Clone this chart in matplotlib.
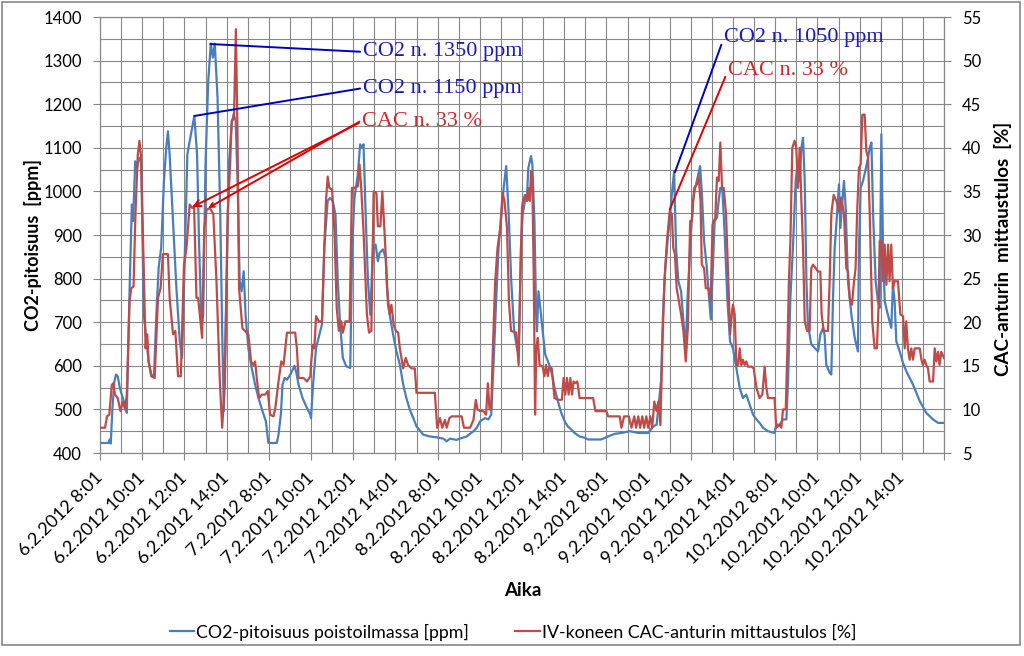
import matplotlib
matplotlib.use("Agg")
import matplotlib.pyplot as plt
from matplotlib.patches import Rectangle

plt.rcParams['font.family'] = ['Lato', 'DejaVu Sans']

# Tunnit kategoria-akselilla (0 = 6.2.2012 8:01, 8 h per päivä)
co2_t = [0.00, 0.41, 0.46, 0.51, 0.59, 0.68, 0.76, 0.84, 0.94, 1.08, 1.19, 1.27, 1.40, 1.51, 1.57, 1.67,
         1.76, 1.86, 1.95, 2.08, 2.21, 2.30, 2.43, 2.56, 2.67, 2.78, 2.90, 3.03, 3.14, 3.22, 3.30, 3.46,
         3.62, 3.78, 3.89, 4.02, 4.14, 4.25, 4.37, 4.47, 4.60, 4.70, 4.81, 4.89, 5.00, 5.13, 5.25, 5.35,
         5.44, 5.57, 5.70, 5.79, 5.87, 6.00, 6.11, 6.24, 6.33, 6.43, 6.52, 6.62, 6.71, 6.81, 6.90, 7.03,
         7.19, 7.35, 7.51, 7.70, 7.86, 7.98, 8.38, 8.46, 8.57, 8.65, 8.75, 8.86, 9.02, 9.22, 9.30, 9.41,
         9.60, 9.81, 9.97, 10.00, 10.11, 10.24, 10.40, 10.52, 10.63, 10.79, 10.90, 11.03, 11.16, 11.27,
         11.38, 11.51, 11.67, 11.86, 11.95, 12.06, 12.22, 12.33, 12.43, 12.49, 12.59, 12.70, 12.81, 12.94,
         13.06, 13.17, 13.25, 13.41, 13.54, 13.60, 13.73, 13.89, 14.05, 14.21, 14.37, 14.52, 14.68, 14.84,
         15.00, 15.32, 15.63, 15.95, 16.27, 16.43, 16.59, 16.90, 17.05, 17.38, 17.70, 17.86, 18.02, 18.25,
         18.41, 18.54, 18.65, 18.78, 18.89, 19.00, 19.13, 19.25, 19.37, 19.49, 19.63, 19.76, 19.84, 19.95,
         20.03, 20.14, 20.24, 20.30, 20.43, 20.49, 20.59, 20.67, 20.71, 20.78, 20.87, 20.98, 21.10, 21.22,
         21.35, 21.46, 21.54, 21.70, 21.86, 22.02, 22.17, 22.33, 22.49, 22.73, 22.97, 23.13, 23.44, 23.75,
         24.08, 24.40, 24.71, 25.11, 25.51, 25.98, 26.22, 26.38, 26.59, 26.68, 26.79, 26.90, 27.02, 27.13,
         27.21, 27.30, 27.41, 27.54, 27.65, 27.76, 27.84, 27.97, 28.10, 28.21, 28.32, 28.44, 28.52, 28.63,
         28.76, 28.84, 28.95, 29.05, 29.13, 29.24, 29.32, 29.40, 29.49, 29.60, 29.73, 29.86, 30.00, 30.16,
         30.32, 30.47, 30.63, 30.79, 30.95, 31.11, 31.26, 31.42, 31.66, 31.97, 32.05, 32.21, 32.37, 32.53,
         32.61, 32.72, 32.84, 32.97, 33.08, 33.16, 33.24, 33.32, 33.40, 33.48, 33.55, 33.71, 33.87, 34.03,
         34.14, 34.27, 34.34, 34.42, 34.58, 34.66, 34.74, 34.82, 34.93, 35.02, 35.09, 35.18, 35.26, 35.34,
         35.45, 35.61, 35.77, 35.92, 35.97, 36.05, 36.16, 36.27, 36.40, 36.48, 36.56, 36.64, 36.76, 36.87,
         36.95, 37.03, 37.11, 37.19, 37.30, 37.42, 37.50, 37.58, 37.66, 37.74, 37.90, 38.06, 38.21, 38.53,
         38.85, 39.16, 39.48, 39.72, 40.00]
co2_ppm = [423, 423, 431, 422, 503, 564, 580, 576, 549, 526, 511, 492, 771, 970, 932, 1069,
           1054, 1077, 1069, 717, 656, 611, 580, 576, 717, 825, 871, 1024, 1100, 1138, 1085, 932,
           779, 656, 618, 855, 1085, 1115, 1146, 1173, 1085, 871, 695, 717, 1062, 1253, 1339, 1307,
           1339, 1215, 947, 679, 496, 794, 1062, 1154, 1177, 1161, 1024, 794, 771, 817, 717, 641,
           595, 557, 526, 496, 473, 423, 423, 442, 488, 557, 572, 568, 580, 600, 585, 557,
           526, 503, 488, 480, 565, 641, 672, 695, 871, 978, 985, 978, 947, 794,
           695, 618, 599, 595, 871, 985, 1039, 1108, 1100, 1108, 947, 794, 717, 871,
           878, 840, 859, 867, 848, 779, 717, 672, 633, 603, 557, 526, 500, 481,
           461, 442, 438, 436, 433, 427, 433, 430, 433, 438, 450, 458, 473, 480,
           477, 488, 603, 756, 871, 932, 1008, 1058, 947, 794, 679, 641, 626, 871,
           947, 978, 993, 1054, 1081, 1062, 932, 717, 679, 771, 733, 679, 626, 611,
           595, 572, 549, 519, 492, 473, 461, 454, 446, 438, 435, 431, 431, 431,
           438, 444, 446, 450, 446, 446, 461, 465, 565, 717, 825, 886, 947, 1008,
           1047, 871, 794, 771, 702, 641, 748, 871, 978, 1008, 1031, 1058, 1001, 886,
           825, 771, 706, 833, 932, 940, 978, 1008, 1008, 909, 756, 656, 640, 595,
           549, 526, 534, 511, 488, 477, 469, 458, 450, 446, 465, 465, 477, 477,
           565, 756, 871, 1024, 1069, 1024, 1100, 1123, 1024, 794, 695, 649, 641, 633,
           672, 687, 672, 603, 584, 580, 756, 871, 947, 1016, 916, 978, 1024, 962,
           794, 717, 664, 633, 871, 1008, 1024, 1047, 1077, 1100, 1112, 947, 794, 748,
           733, 1131, 871, 748, 725, 702, 687, 786, 748, 656, 633, 606, 588, 557,
           519, 492, 477, 469, 469]

cac_t = [0.02, 0.24, 0.33, 0.44, 0.56, 0.63, 0.71, 0.84, 0.97, 1.08, 1.19, 1.27, 1.40, 1.48, 1.59, 1.68,
         1.79, 1.87, 1.95, 2.16, 2.24, 2.30, 2.43, 2.59, 2.75, 2.87, 2.98, 3.22, 3.30, 3.46, 3.57, 3.70,
         3.83, 3.98, 4.10, 4.25, 4.37, 4.46, 4.57, 4.65, 4.84, 4.94, 5.05, 5.21, 5.37, 5.52, 5.68, 5.79,
         5.92, 6.05, 6.16, 6.24, 6.35, 6.44, 6.51, 6.59, 6.75, 6.87, 7.03, 7.16, 7.27, 7.35, 7.43, 7.54,
         7.67, 7.83, 7.95, 8.06, 8.22, 8.30, 8.46, 8.59, 8.70, 8.86, 9.10, 9.25, 9.33, 9.41, 9.65, 9.81,
         9.97, 10.00, 10.08, 10.16, 10.24, 10.37, 10.52, 10.63, 10.71, 10.79, 10.87, 11.00, 11.11, 11.22,
         11.32, 11.43, 11.51, 11.63, 11.83, 11.94, 12.06, 12.22, 12.30, 12.38, 12.49, 12.65, 12.75, 12.86,
         12.97, 13.10, 13.17, 13.29, 13.38, 13.49, 13.57, 13.65, 13.73, 13.81, 13.92, 14.02, 14.13, 14.21,
         14.37, 14.49, 14.60, 14.76, 14.92, 15.00, 15.87, 15.98, 16.11, 16.22, 16.35, 16.43, 16.56, 16.67,
         17.14, 17.25, 17.54, 17.70, 17.81, 17.89, 18.02, 18.17, 18.30, 18.38, 18.46, 18.54, 18.62, 18.73,
         18.84, 18.97, 19.08, 19.17, 19.29, 19.38, 19.48, 19.73, 19.84, 19.92, 20.00, 20.03, 20.14, 20.24,
         20.30, 20.37, 20.43, 20.49, 20.56, 20.62, 20.68, 20.75, 20.83, 20.98, 21.06, 21.14, 21.22, 21.30,
         21.41, 21.54, 21.70, 21.89, 21.97, 22.05, 22.13, 22.21, 22.29, 22.37, 22.44, 22.52, 22.62, 22.73,
         23.37, 23.48, 24.00, 24.08, 24.63, 24.71, 24.84, 25.06, 25.19, 25.32, 25.41, 25.51, 25.60, 25.70,
         25.79, 25.89, 25.98, 26.08, 26.17, 26.27, 26.38, 26.46, 26.56, 26.65, 26.75, 26.87, 27.00, 27.10,
         27.17, 27.25, 27.33, 27.41, 27.54, 27.65, 27.76, 27.86, 27.97, 28.05, 28.16, 28.29, 28.37, 28.46,
         28.52, 28.63, 28.71, 28.84, 28.94, 29.03, 29.16, 29.24, 29.32, 29.40, 29.48, 29.56, 29.67, 29.78,
         29.86, 29.97, 30.00, 30.08, 30.16, 30.24, 30.32, 30.39, 30.47, 30.55, 30.63, 30.71, 30.87, 30.98,
         31.11, 31.26, 31.39, 31.50, 31.58, 31.66, 31.97, 32.05, 32.21, 32.29, 32.37, 32.50, 32.58, 32.65,
         32.72, 32.81, 32.92, 33.00, 33.08, 33.16, 33.24, 33.32, 33.40, 33.51, 33.63, 33.71, 33.79, 33.92,
         34.03, 34.14, 34.20, 34.30, 34.50, 34.58, 34.66, 34.77, 34.90, 35.02, 35.13, 35.26, 35.37, 35.45,
         35.53, 35.64, 35.72, 35.81, 35.88, 35.97, 36.05, 36.13, 36.24, 36.32, 36.40, 36.48, 36.60, 36.71,
         36.82, 36.90, 36.95, 37.03, 37.11, 37.19, 37.27, 37.35, 37.42, 37.50, 37.58, 37.66, 37.82, 37.93,
         38.06, 38.14, 38.21, 38.29, 38.37, 38.45, 38.53, 38.61, 38.85, 38.93, 39.00, 39.08, 39.16, 39.24,
         39.32, 39.48, 39.56, 39.64, 39.72, 39.79, 39.87, 40.00]
cac_pct = [7.9, 7.9, 9.2, 9.4, 12.8, 13.0, 11.7, 11.3, 9.8, 10.9, 10.0, 11.7, 22.4, 23.9, 24.1, 32.4,
           39.2, 40.8, 38.9, 17.0, 18.6, 15.5, 13.8, 13.6, 22.8, 23.9, 27.8, 27.8, 22.8, 18.6, 19.0, 13.8,
           13.8, 26.6, 28.5, 33.5, 33.1, 33.3, 22.8, 22.8, 18.2, 30.8, 32.9, 33.1, 32.4, 24.7, 13.2, 7.9,
           13.2, 32.4, 37.7, 43.1, 43.4, 53.6, 42.7, 23.9, 19.3, 19.0, 18.6, 15.5, 15.1, 15.5, 13.6, 11.3,
           11.7, 11.7, 12.1, 9.4, 9.2, 10.0, 13.2, 15.5, 15.1, 18.8, 18.8, 18.8, 17.0, 13.6, 13.6, 13.2,
           13.8, 15.1, 17.4, 17.0, 20.7, 20.1, 20.1, 28.5, 33.9, 36.7, 35.4, 35.2, 30.4, 21.6,
           19.0, 20.1, 18.8, 20.1, 20.1, 35.4, 35.4, 35.6, 38.1, 35.4, 30.4, 20.9, 18.8, 19.0,
           35.0, 34.8, 31.0, 31.0, 35.0, 30.1, 26.2, 22.0, 20.9, 22.0, 19.7, 19.0, 18.8, 17.0,
           14.7, 15.9, 15.1, 14.7, 14.7, 11.9, 11.9, 7.9, 9.0, 7.9, 8.8, 7.9, 9.0, 9.2,
           9.2, 7.9, 7.9, 8.8, 11.1, 10.0, 9.8, 9.8, 9.4, 13.0, 10.0, 10.0, 17.0, 24.7,
           28.5, 30.8, 34.8, 33.9, 30.8, 22.4, 19.0, 18.8, 15.1, 24.7, 33.1, 33.7, 34.6, 33.9,
           35.4, 33.9, 37.3, 36.2, 24.7, 9.4, 17.0, 18.2, 15.1, 14.9, 13.8, 15.1, 13.8, 14.9,
           14.7, 11.3, 11.1, 11.1, 13.6, 11.7, 13.6, 11.7, 13.6, 11.7, 13.2, 13.0, 13.2, 11.3,
           11.3, 9.8, 9.8, 9.2, 9.2, 7.9, 9.2, 9.2, 7.9, 9.2, 7.9, 9.2, 7.9, 9.2,
           7.9, 9.2, 7.9, 9.2, 7.9, 10.9, 9.8, 10.9, 8.2, 17.0, 24.7, 29.3, 32.7, 32.4,
           28.5, 27.8, 23.9, 22.8, 20.9, 19.0, 15.5, 19.3, 31.6, 31.6, 35.4, 35.8, 36.9, 33.9,
           26.6, 26.2, 23.9, 23.9, 22.4, 31.2, 32.0, 36.6, 36.2, 40.6, 35.4, 35.4, 32.4, 24.7,
           18.6, 21.6, 22.0, 20.9, 15.1, 15.1, 17.0, 15.1, 15.7, 15.1, 15.5, 14.9, 14.9, 14.7,
           12.5, 11.3, 11.7, 14.9, 12.5, 11.3, 11.3, 7.9, 8.2, 7.9, 10.0, 10.0, 17.0, 24.7,
           29.3, 40.0, 40.8, 40.0, 35.4, 40.0, 33.9, 28.5, 20.1, 19.0, 19.0, 26.2, 26.6, 26.2,
           25.8, 25.8, 20.9, 19.0, 19.0, 24.7, 32.4, 34.6, 33.9, 32.7, 34.3, 32.4, 26.2, 25.8,
           22.8, 22.0, 24.3, 26.2, 32.4, 37.7, 38.1, 43.8, 43.8, 39.6, 38.9, 32.4, 20.1, 17.0,
           17.0, 22.0, 29.3, 29.3, 24.7, 28.9, 24.3, 28.9, 24.7, 28.9, 23.9, 24.7, 24.7, 20.9,
           20.7, 17.0, 20.1, 17.0, 15.7, 17.0, 15.7, 17.0, 17.0, 15.7, 15.1, 15.7, 15.1, 14.7,
           13.2, 13.2, 17.0, 15.5, 16.6, 15.1, 16.6, 15.9]

tick_labels = []
for paiva in ["6.2.2012", "7.2.2012", "8.2.2012", "9.2.2012", "10.2.2012"]:
  for klo in ["8:01", "10:01", "12:01", "14:01"]:
    tick_labels.append(paiva + " " + klo)

grid_c = "#878787"
blue = "#4a7ebb"
red = "#be4b48"

fig = plt.figure(figsize=(10.24, 6.56), dpi=100)
ax = fig.add_axes([100 / 1024, 1 - 453 / 656, 844 / 1024, 436 / 656])
ax2 = ax.twinx()

ax.plot(co2_t, co2_ppm, color=blue, lw=1.6, zorder=3)
ax2.plot(cac_t, cac_pct, color=red, lw=1.6, zorder=3)

ax.set_xlim(0, 40)
ax.set_ylim(400, 1400)
ax2.set_ylim(5, 55)

ax.set_xticks(range(0, 41, 2))
ax.set_xticks(range(1, 40, 2), minor=True)
ax.set_xticklabels(tick_labels + [""], rotation=45, ha="right", va="center",
                   rotation_mode="anchor", fontsize=13)
ax.set_yticks(range(400, 1401, 100))
ax.set_yticks(range(450, 1400, 100), minor=True)
ax2.set_yticks(range(5, 56, 5))
ax.tick_params(axis="y", labelsize=12, length=5, pad=8, color=grid_c)
ax2.tick_params(axis="y", labelsize=12, length=5, pad=8, color=grid_c)
ax.tick_params(axis="x", which="major", length=5, pad=11, color=grid_c)
ax.tick_params(which="minor", length=0)

ax.grid(True, which="both", color=grid_c, lw=0.8)
ax.set_axisbelow(True)
for a in (ax, ax2):
  for s in a.spines.values():
    s.set_color(grid_c)
    s.set_linewidth(0.8)

# Huomautukset
serif = "Liberation Serif"
ax2.annotate("CO2 n. 1350 ppm", xy=(5.23, (1338 - 400) / 20 + 5), xytext=(12.46, (1320 - 400) / 20 + 5),
             color="#1c1cb4", fontsize=16, family=serif, va="center", ha="left", zorder=6,
             arrowprops=dict(arrowstyle="-", color="#0000c0", lw=1.4, relpos=(0, 0.5), shrinkA=0, shrinkB=0))
ax2.annotate("CO2 n. 1150 ppm", xy=(4.47, (1173 - 400) / 20 + 5), xytext=(12.46, (1237 - 400) / 20 + 5),
             color="#1c1cb4", fontsize=16, family=serif, va="center", ha="left", zorder=6,
             arrowprops=dict(arrowstyle="-", color="#0000c0", lw=1.4, relpos=(0, 0.5), shrinkA=0, shrinkB=0))
ax2.annotate("CAC n. 33 %", xy=(4.37, 33.2), xytext=(12.4, 43.0),
             color="#d02828", fontsize=16, family=serif, va="center", ha="left", zorder=6,
             arrowprops=dict(arrowstyle="->,head_length=0.3,head_width=0.15", color="#e00000", lw=1.4,
                             relpos=(0, 0.5), shrinkA=0, shrinkB=0))
ax2.annotate("", xy=(5.13, 33.1), xytext=(12.3, 43.0), zorder=6,
             arrowprops=dict(arrowstyle="->,head_length=0.3,head_width=0.15", color="#e00000", lw=1.4,
                             shrinkA=0, shrinkB=0))
ax2.annotate("CO2 n. 1050 ppm", xy=(27.25, (1044 - 400) / 20 + 5), xytext=(29.58, (1354 - 400) / 20 + 5),
             color="#1c1cb4", fontsize=16, family=serif, va="center", ha="left", zorder=6,
             arrowprops=dict(arrowstyle="-", color="#0000c0", lw=1.4, relpos=(0, 0.5), shrinkA=0, shrinkB=0))
ax2.annotate("CAC n. 33 %", xy=(27.0, 32.9), xytext=(29.77, 48.9),
             color="#d02828", fontsize=16, family=serif, va="center", ha="left", zorder=6,
             arrowprops=dict(arrowstyle="-", color="#e00000", lw=1.4, relpos=(0, 0.5), shrinkA=0, shrinkB=0))

fig.text(33 / 1024, 1 - 245 / 656, "CO2-pitoisuus  [ppm]", rotation=90, ha="center", va="center",
         fontsize=13, fontweight="bold")
fig.text(1003 / 1024, 1 - 249 / 656, "CAC-anturin  mittaustulos  [%]", rotation=90, ha="center", va="center",
         fontsize=13.5, fontweight="bold")
fig.text(523 / 1024, 1 - 590 / 656, "Aika", ha="center", va="center", fontsize=13.5, fontweight="bold")

l1, = ax.plot([], [], color=blue, lw=1.6)
l2, = ax.plot([], [], color=red, lw=1.6)
fig.legend([l1, l2], ["CO2-pitoisuus poistoilmassa [ppm]", "IV-koneen CAC-anturin mittaustulos [%]"],
           loc="center", bbox_to_anchor=(513 / 1024, 1 - 632 / 656), ncol=2, frameon=False,
           fontsize=12.8, handlelength=1.4, handletextpad=0.1, columnspacing=2.6)

fig.patches.append(Rectangle((2 / 1024, 1 - 645 / 656), 1018 / 1024, 643 / 656, transform=fig.transFigure,
                             fill=False, edgecolor=grid_c, lw=1.2))

plt.savefig("out.png", dpi=100)
